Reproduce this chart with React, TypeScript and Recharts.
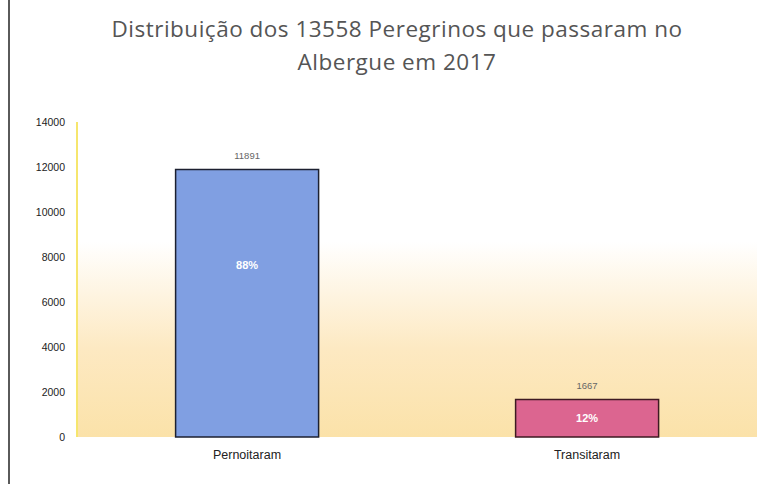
import React from "react";
import { BarChart, Bar, XAxis, YAxis, CartesianGrid, Cell, LabelList } from "recharts";

const categories = ["Pernoitaram", "Transitaram"];
const counts = [11891, 1667];
const percents = ["88%", "12%"];
const yTicks = [0, 2000, 4000, 6000, 8000, 10000, 12000, 14000];
const barFills = ["#809fe2", "#dc6590"];
const barStrokes = ["#1c2030", "#3e1a22"];

const data = categories.map((c, i) => ({ name: c, value: counts[i], pct: percents[i] }));

const PctLabel = (props: any) => {
  const { x, y, width, height, index } = props;
  const off = Math.min(height / 2, 96);
  return (
    <text
      x={x + width / 2}
      y={y + off}
      textAnchor="middle"
      dominantBaseline="central"
      fill="#ffffff"
      fontSize={11}
      fontWeight="bold"
      fontFamily="Liberation Sans, Arial, sans-serif"
    >
      {data[index].pct}
    </text>
  );
};

export default function App() {
  return (
    <div style={{ position: "absolute", left: 0, top: 0, width: 757, height: 484, background: "#fff", overflow: "hidden" }}>
      <div style={{ position: "absolute", left: 8, top: 0, width: 2, height: 484, background: "#5a5a5a" }} />
      <div
        style={{
          position: "absolute",
          left: 0,
          top: 12,
          width: 794,
          textAlign: "center",
          fontFamily: "'Open Sans', sans-serif",
          fontSize: 22.5,
          letterSpacing: 0.5,
          lineHeight: "33px",
          color: "#555",
        }}
      >
        Distribuição dos 13558 Peregrinos que passaram no
        <br />
        Albergue em 2017
      </div>
      <BarChart
        width={757}
        height={484}
        data={data}
        margin={{ top: 122, right: 0, bottom: 17, left: 0 }}
        barCategoryGap="29%"
      >
        <defs>
          <linearGradient id="bgGrad" x1="0" y1="0" x2="0" y2="1">
            <stop offset="0%" stopColor="#ffffff" />
            <stop offset="38%" stopColor="#ffffff" />
            <stop offset="72%" stopColor="#fde9c2" />
            <stop offset="100%" stopColor="#fbe2a9" />
          </linearGradient>
        </defs>
        <CartesianGrid fill="url(#bgGrad)" horizontal={false} vertical={false} />
        <XAxis
          dataKey="name"
          axisLine={false}
          tickLine={false}
          height={30}
          tickMargin={7}
          tick={{ fill: "#222", fontSize: 12.5, fontFamily: "Liberation Sans, Arial, sans-serif" }}
        />
        <YAxis
          domain={[0, 14000]}
          ticks={yTicks}
          width={77}
          axisLine={{ stroke: "#f6e66e", strokeWidth: 2 }}
          tickLine={false}
          tickMargin={6}
          tick={{ fill: "#222", fontSize: 10.5, fontFamily: "Liberation Sans, Arial, sans-serif" }}
        />
        <Bar dataKey="value" isAnimationActive={false} strokeWidth={1.5}>
          {data.map((d, i) => (
            <Cell key={d.name} fill={barFills[i]} stroke={barStrokes[i]} />
          ))}
          <LabelList
            dataKey="value"
            position="top"
            offset={10}
            fill="#666"
            fontSize={9.5}
            fontFamily="Liberation Sans, Arial, sans-serif"
          />
          <LabelList dataKey="pct" content={PctLabel} />
        </Bar>
      </BarChart>
    </div>
  );
}
